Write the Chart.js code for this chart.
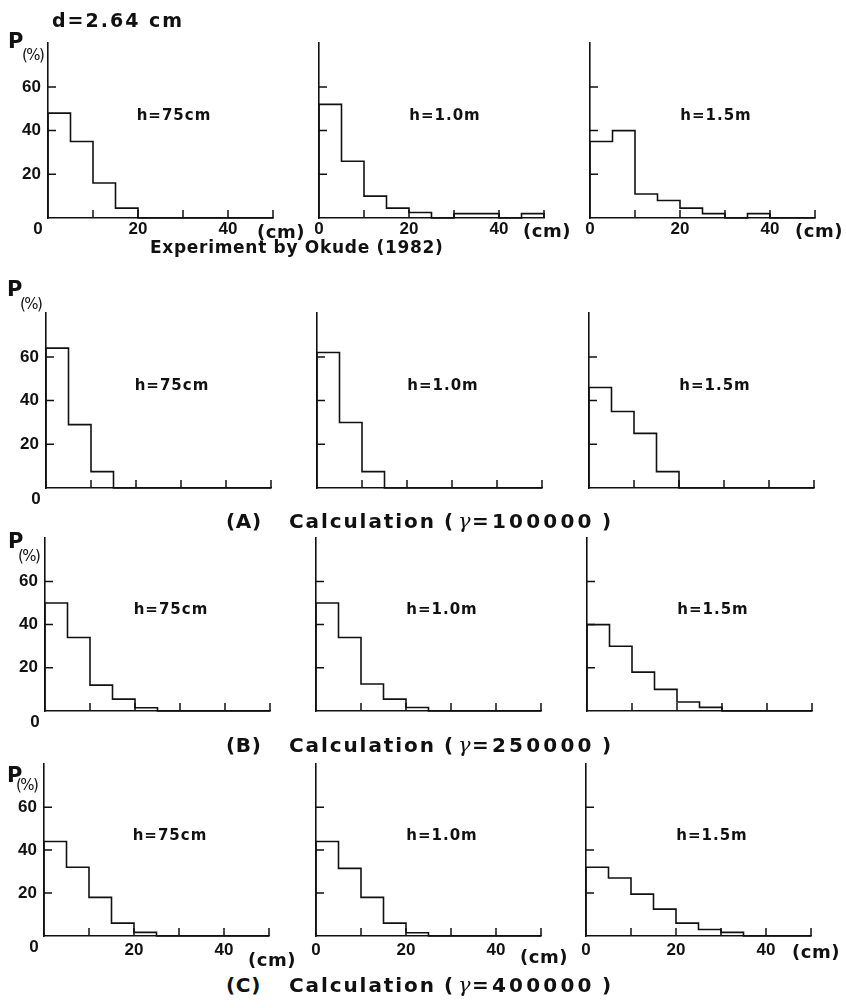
<!DOCTYPE html>
<html>
<head>
<meta charset="utf-8">
<script src="https://cdn.jsdelivr.net/npm/chart.js@4"></script>
<style>
  html, body { margin: 0; padding: 0; background: #fff; }
  #page { position: relative; width: 846px; height: 1008px; background: #fff; overflow: hidden;
          font-family: "DejaVu Sans", sans-serif; font-weight: bold; color: #111; }
  #page canvas { position: absolute; }
  .txt { position: absolute; white-space: pre; line-height: 1; }
</style>
</head>
<body>
<div id="page"></div>
<script>
// bin edges of the histograms (cm), every bin is 5 cm wide
const binEdges = [0, 5, 10, 15, 20, 25, 30, 35, 40, 45];
const xMax = 50;
const yMax = 80;

// P (%) per bin
// row 0 : Experiment by Okude (1982)
const expH075 = [48, 35, 16, 4.5, 0, 0, 0, 0, 0, 0];
const expH100 = [52, 26, 10, 4.5, 2.5, 0, 2, 2, 0, 2];
const expH150 = [35, 40, 11, 8, 4.5, 2, 0, 2, 0, 0];
// row 1 : (A) gamma = 100000
const calcAH075 = [64, 29, 7.5, 0, 0, 0, 0, 0, 0, 0];
const calcAH100 = [62, 30, 7.5, 0, 0, 0, 0, 0, 0, 0];
const calcAH150 = [46, 35, 25, 7.5, 0, 0, 0, 0, 0, 0];
// row 2 : (B) gamma = 250000
const calcBH075 = [50, 34, 12, 5.5, 1.5, 0, 0, 0, 0, 0];
const calcBH100 = [50, 34, 12.5, 5.5, 1.6, 0, 0, 0, 0, 0];
const calcBH150 = [40, 30, 18, 10, 4.2, 1.7, 0, 0, 0, 0];
// row 3 : (C) gamma = 400000
const calcCH075 = [44, 32, 18, 6, 1.7, 0, 0, 0, 0, 0];
const calcCH100 = [44, 31.5, 18, 6, 1.5, 0, 0, 0, 0, 0];
const calcCH150 = [32, 27, 19.5, 12.5, 6, 3, 1.7, 0, 0, 0];

const seriesGrid = [
    [expH075, expH100, expH150],
    [calcAH075, calcAH100, calcAH150],
    [calcBH075, calcBH100, calcBH150],
    [calcCH075, calcCH100, calcCH150],
];

// text
const hLabels = ['h=75cm', 'h=1.0m', 'h=1.5m'];
const yTickLabels = [20, 40, 60];
const xTickLabels = [0, 20, 40];
const figTitle = 'd=2.64 cm';
const expCaption = 'Experiment by Okude (1982)';
const calcLetters = ['(A)', '(B)', '(C)'];
const calcWord = 'Calculation';
const gammaValues = ['100000', '250000', '400000'];

const INK = '#111';
const TICK_FONT = '"Liberation Sans", Arial, sans-serif';
const LABEL_FONT = '"DejaVu Sans", sans-serif';

// layout of the panels (pixels on the page)
const rows = [
    { top: 38,  h: 180, axX: [48, 319, 590], xLabels: true,  xPad: 1 },
    { top: 308, h: 180, axX: [46, 317, 589], xLabels: false, xPad: 1 },
    { top: 533, h: 178, axX: [45, 316, 587], xLabels: false, xPad: 1 },
    { top: 759, h: 177, axX: [44, 316, 586], xLabels: true,  xPad: 4 },
];
const LEFT_W = 45, PAD_T = 12, PAD_R = 12, BOTTOM_H = 30, PLOT_W = 225;

const page = document.getElementById('page');

function addText(str, left, centerY, size, extra) {
    const d = document.createElement('div');
    d.className = 'txt';
    d.textContent = str;
    d.style.left = left + 'px';
    d.style.top = (centerY - size / 2) + 'px';
    d.style.fontSize = size + 'px';
    if (extra) Object.assign(d.style, extra);
    page.appendChild(d);
    return d;
}

function histPoints(vals) {
    const pts = [{ x: 0, y: 0 }];
    vals.forEach((v, i) => pts.push({ x: binEdges[i], y: v }));
    pts.push({ x: xMax, y: 0 });
    return pts;
}

// inward tick marks, the h= label and the origin "0"
const panelDeco = {
    id: 'panelDeco',
    afterDraw(chart, args, opts) {
        const { ctx } = chart;
        const x = chart.scales.x, y = chart.scales.y;
        ctx.save();
        ctx.strokeStyle = INK;
        ctx.lineWidth = 1.5;
        ctx.beginPath();
        x.ticks.forEach(t => {
            if (t.value > 0) {
                const px = x.getPixelForValue(t.value);
                ctx.moveTo(px, y.bottom);
                ctx.lineTo(px, y.bottom - 8);
            }
        });
        y.ticks.forEach(t => {
            if (t.value > 0 && t.value < yMax) {
                const py = y.getPixelForValue(t.value);
                ctx.moveTo(x.left, py);
                ctx.lineTo(x.left + 8, py);
            }
        });
        ctx.stroke();

        ctx.fillStyle = INK;
        ctx.textAlign = 'center';
        ctx.textBaseline = 'middle';
        ctx.font = 'bold 15px ' + LABEL_FONT;
        ctx.letterSpacing = '1px';
        ctx.fillText(opts.label, x.getPixelForValue(28), y.getPixelForValue(46.5));
        if (opts.origin) {
            ctx.letterSpacing = '0px';
            ctx.font = 'bold 17px ' + TICK_FONT;
            ctx.fillText('0', x.getPixelForValue(0) - 10, y.getPixelForValue(0) + 11);
        }
        ctx.restore();
    }
};

rows.forEach((row, r) => {
    row.axX.forEach((ax, c) => {
        const canvas = document.createElement('canvas');
        const w = LEFT_W + PLOT_W + PAD_R;
        const h = PAD_T + row.h + BOTTOM_H;
        canvas.width = w;
        canvas.height = h;
        canvas.style.left = (ax - LEFT_W) + 'px';
        canvas.style.top = (row.top - PAD_T) + 'px';
        canvas.style.width = w + 'px';
        canvas.style.height = h + 'px';
        page.appendChild(canvas);

        const tickFont = { family: TICK_FONT, size: 17, weight: 'bold' };
        new Chart(canvas, {
            type: 'line',
            data: {
                datasets: [{
                    data: histPoints(seriesGrid[r][c]),
                    stepped: 'before',
                    borderColor: INK,
                    borderWidth: 1.6,
                    pointRadius: 0,
                    fill: false,
                    clip: 4,
                }],
            },
            options: {
                responsive: false,
                animation: false,
                devicePixelRatio: 1,
                layout: { padding: { top: PAD_T, right: PAD_R, left: 0, bottom: 0 } },
                plugins: {
                    legend: { display: false },
                    tooltip: { enabled: false },
                    panelDeco: { label: hLabels[c], origin: c === 0 },
                },
                scales: {
                    x: {
                        type: 'linear',
                        min: 0,
                        max: xMax,
                        grid: { display: false, drawTicks: false },
                        border: { display: true, color: INK, width: 1.6 },
                        ticks: {
                            stepSize: 10,
                            autoSkip: false,
                            maxRotation: 0,
                            padding: row.xPad,
                            color: INK,
                            font: tickFont,
                            callback: v => {
                                if (!row.xLabels) return '';
                                if (v === 0 && c === 0) return '';
                                return xTickLabels.includes(v) ? String(v) : '';
                            },
                        },
                        afterFit: s => { s.height = BOTTOM_H; },
                    },
                    y: {
                        min: 0,
                        max: yMax,
                        grid: { display: false, drawTicks: false },
                        border: { display: true, color: INK, width: 1.6 },
                        ticks: {
                            stepSize: 20,
                            autoSkip: false,
                            padding: 7,
                            color: INK,
                            font: tickFont,
                            callback: v => (c === 0 && yTickLabels.includes(v)) ? String(v) : '',
                        },
                        afterFit: s => { s.width = LEFT_W; },
                    },
                },
            },
            plugins: [panelDeco],
        });
    });
});

// ---- text around the panels ----
addText(figTitle, 52, 20, 19, { letterSpacing: '2px' });

// P(%) label of each row: [P left, P centre y, (%) left, (%) centre y]
const pLabelPos = [[8, 41, 22, 55], [7, 289, 20, 304], [8, 541, 18, 556], [7, 775, 16, 785]];
pLabelPos.forEach(p => {
    addText('P', p[0], p[1], 21);
    addText('(%)', p[2], p[3], 15, { fontWeight: 'normal', letterSpacing: '-1.5px' });
});

// (cm) labels on the rows with x labels
const cmPos = [[[257, 232], [523, 231], [795, 231]], [[248, 960], [520, 957], [792, 952]]];
cmPos.forEach(rowPos => rowPos.forEach(p => addText('(cm)', p[0], p[1], 18, { letterSpacing: '0.5px' })));

// captions
addText(expCaption, 150, 247, 17, { letterSpacing: '0.7px' });
const calcCenters = [521, 745, 985];
calcCenters.forEach((cy, i) => {
    addText(calcLetters[i], 226, cy, 20, { letterSpacing: '0.7px' });
    addText(calcWord, 289, cy, 20, { letterSpacing: '1.9px' });
    addText('(', 444, cy, 20);
    addText('γ', 458, cy, 21, { fontStyle: 'italic', fontWeight: 'normal', fontFamily: '"DejaVu Serif", serif' });
    addText('=' + gammaValues[i], 472, cy, 20, { letterSpacing: '3.2px' });
    addText(')', 602, cy, 20);
});
</script>
</body>
</html>
